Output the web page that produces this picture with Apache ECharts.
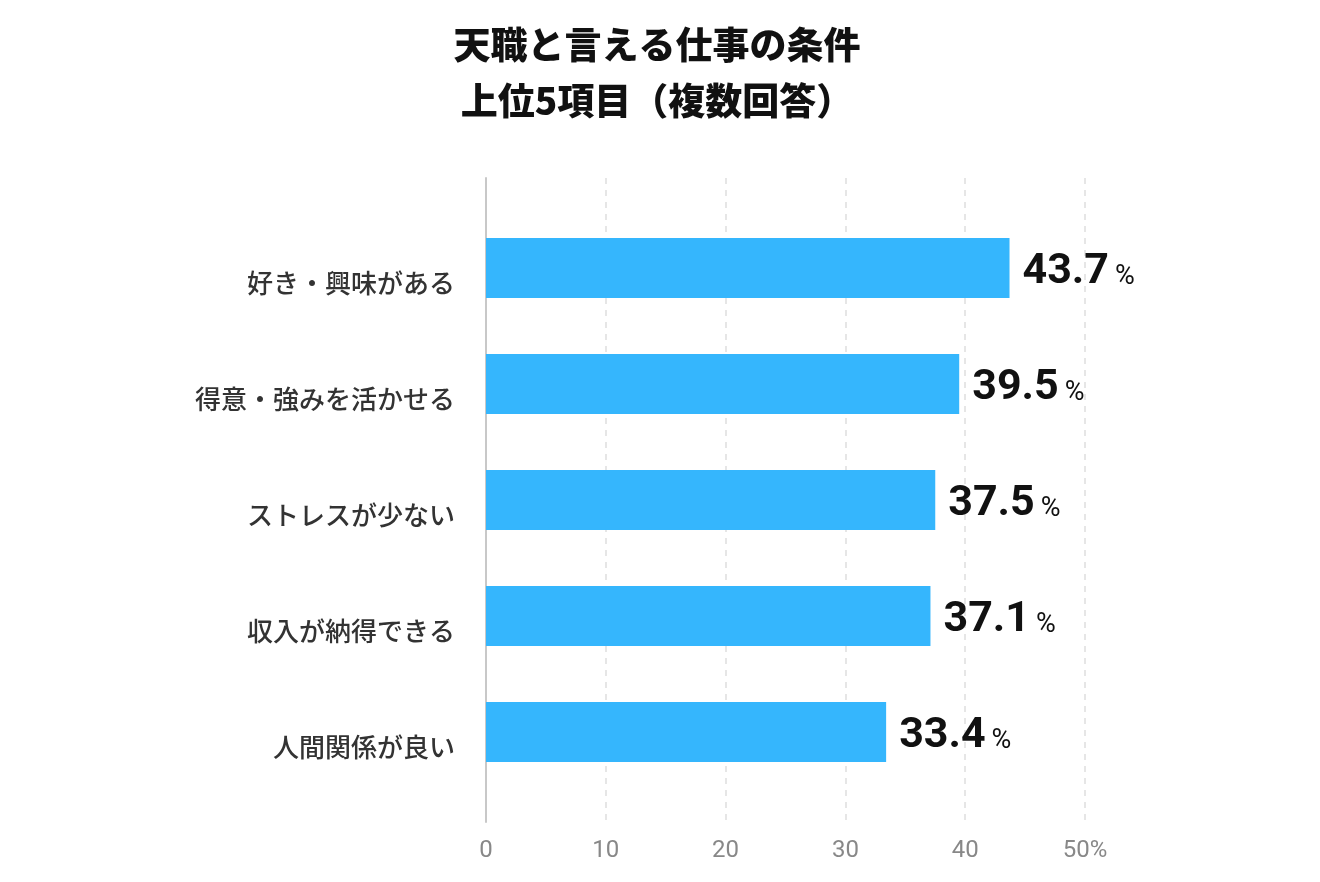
<!DOCTYPE html>
<html>
<head>
<meta charset="utf-8">
<script src="https://cdn.jsdelivr.net/npm/echarts@6/dist/echarts.min.js"></script>
<style>
  html, body { margin: 0; padding: 0; background: #fff; }
  #chart { width: 1320px; height: 882px; }
</style>
</head>
<body>
<div id="chart"></div>
<script>
const categories = ['好き・興味がある', '得意・強みを活かせる', 'ストレスが少ない', '収入が納得できる', '人間関係が良い'];
const values = [43.7, 39.5, 37.5, 37.1, 33.4];
const tickLabels = ['0', '10', '20', '30', '40', '50%'];

const JP = '"Noto Sans CJK JP", "Noto Sans", sans-serif';
const NUM = 'Roboto, "Noto Sans", sans-serif';

let myChart = echarts.init(document.getElementById('chart'));
let option = {
  backgroundColor: '#fff',
  animation: false,
  title: {
    text: '天職と言える仕事の条件\n上位5項目（複数回答）',
    left: 652,
    textAlign: 'center',
    top: 12,
    textStyle: {
      fontFamily: JP,
      fontSize: 37,
      fontWeight: 900,
      color: '#111',
      lineHeight: 56
    }
  },
  grid: [
    // bars
    { left: 486, right: 235, top: 210, bottom: 92 },
    // background grid lines + axis
    { left: 486, right: 235, top: 178, bottom: 60 }
  ],
  xAxis: [
    {
      gridIndex: 0, type: 'value', min: 0, max: 50, interval: 10,
      axisLine: { show: false }, axisTick: { show: false },
      axisLabel: { show: false }, splitLine: { show: false }
    },
    {
      gridIndex: 1, type: 'value', min: 0, max: 50, interval: 10,
      axisLine: { show: false }, axisTick: { show: false },
      splitLine: { show: true, lineStyle: { color: '#dedede', type: [6, 6], width: 1.5 } },
      axisLabel: {
        margin: 17,
        fontFamily: NUM, fontSize: 24, color: '#888',
        formatter: (v) => tickLabels[Math.round(v / 10)]
      }
    }
  ],
  yAxis: [
    {
      gridIndex: 0, type: 'category', data: categories, inverse: true,
      axisLine: { show: false }, axisTick: { show: false },
      axisLabel: {
        margin: 31,
        fontFamily: JP, fontSize: 26, fontWeight: 500, color: '#333',
        verticalAlign: 'top',
        padding: [2, 0, 0, 0]
      }
    },
    {
      gridIndex: 1, type: 'value', min: 0, max: 1,
      axisLine: { show: true, lineStyle: { color: '#c8c8c8', width: 2 } },
      axisTick: { show: false }, axisLabel: { show: false }, splitLine: { show: false }
    }
  ],
  series: [
    {
      type: 'bar',
      xAxisIndex: 0, yAxisIndex: 0,
      data: values,
      barWidth: 60,
      itemStyle: { color: '#35b6fd' },
      label: {
        show: true,
        position: 'right',
        distance: 13,
        offset: [0, 4],
        formatter: (p) => '{v|' + p.value.toFixed(1) + '}{p|%}',
        rich: {
          v: { fontFamily: NUM, fontSize: 43, fontWeight: 'bold', color: '#111', padding: [0, 6, 0, 0] },
          p: { fontFamily: NUM, fontSize: 27, color: '#111', padding: [10, 0, 0, 0] }
        }
      }
    }
  ]
};

option && myChart.setOption(option);
</script>
</body>
</html>
